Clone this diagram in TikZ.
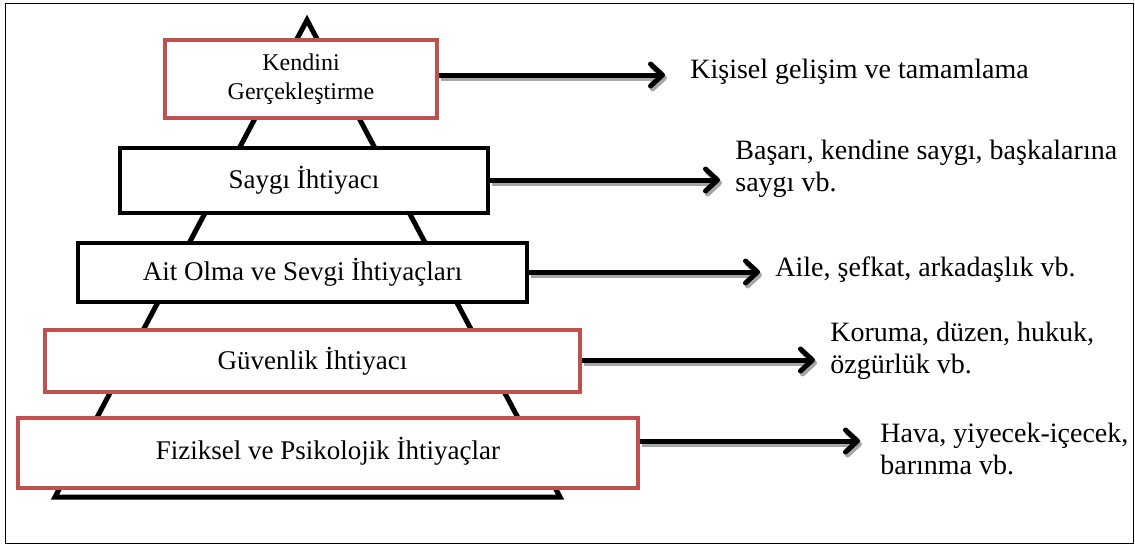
\documentclass[tikz,border=0pt]{standalone}
\usepackage{fontspec}
\setmainfont{Liberation Serif}
\usetikzlibrary{arrows.meta}
\definecolor{boxred}{RGB}{192,80,77}
\tikzset{
  level/.style={fill=white, line width=2pt, align=center, inner sep=0pt, font=\fontsize{13.5}{16}\selectfont},
  redlevel/.style={level, draw=boxred},
  blacklevel/.style={level, draw=black},
  need/.style={anchor=west, align=left, inner sep=0pt, font=\fontsize{14}{16}\selectfont},
  needarrow/.style={line width=2.5pt, -{Straight Barb[length=6pt,width=11pt,round]}},
  needshadow/.style={needarrow, draw=black!35, transform canvas={shift={(1pt,-1.5pt)}}},
}
\begin{document}
\begin{tikzpicture}[x=0.5pt,y=-0.5pt]
\useasboundingbox (0,0) rectangle (1135,548);
\draw [line width=0.5pt] (5,3) rectangle (1133,543);
% pyramid
\draw [line width=2.5pt] (307,20) -- (560,497) -- (55,497) -- cycle;
% levels
\node [redlevel, minimum width=136pt, minimum height=39pt, font=\fontsize{12}{14.5}\selectfont] (kendini) at (301,79) {Kendini\\Gerçekleştirme};
\node [blacklevel, minimum width=184pt, minimum height=32.5pt] (saygi) at (304,180.5) {Saygı İhtiyacı};
\node [blacklevel, minimum width=224.5pt, minimum height=29.5pt] (ait) at (302.5,272.5) {Ait Olma ve Sevgi İhtiyaçları};
\node [redlevel, minimum width=267.5pt, minimum height=31pt] (guven) at (312.5,361) {Güvenlik İhtiyacı};
\node [redlevel, minimum width=310pt, minimum height=35pt, text depth=5pt] (fizik) at (328,453) {Fiziksel ve Psikolojik İhtiyaçlar};
% examples
\node [need] (kisisel) at (690,72) {Kişisel gelişim ve tamamlama};
\node [need] (basari) at (735,169) {Başarı, kendine saygı, başkalarına\\saygı vb.};
\node [need] (aile) at (775,270) {Aile, şefkat, arkadaşlık vb.};
\node [need] (koruma) at (830,351) {Koruma, düzen, hukuk,\\özgürlük vb.};
\node [need] (hava) at (880,449) {Hava, yiyecek-içecek,\\barınma vb.};
\coordinate (e1) at (665,75);
\coordinate (e2) at (720,180);
\coordinate (e3) at (760,272);
\coordinate (e4) at (815,360);
\coordinate (e5) at (860,441);
\foreach \lv/\e in {kendini/e1, saygi/e2, ait/e3, guven/e4, fizik/e5} {
  \draw [needshadow] (\lv.east |- \e) -- (\e);
  \draw [needarrow] (\lv.east |- \e) -- (\e);
}
\end{tikzpicture}
\end{document}
